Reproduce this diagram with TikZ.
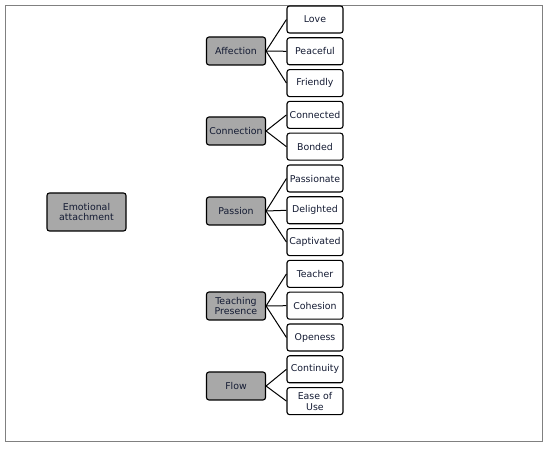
\documentclass[tikz,border=0pt]{standalone}
\usepackage{fontspec}
\setmainfont{DejaVu Sans}
\definecolor{txt}{HTML}{141B33}
\definecolor{catfill}{HTML}{A8A8A8}
\definecolor{framec}{HTML}{808080}
\begin{document}
\begin{tikzpicture}[x=1pt,y=-1pt,
  base/.style={draw=black, line width=1.1pt, rounded corners=2.5pt, align=center,
    font=\fontsize{9.4}{10.8}\selectfont, text=txt, inner sep=0pt},
  cat/.style={base, fill=catfill, minimum width=59pt, minimum height=28pt},
  leaf/.style={base, fill=white, minimum width=56pt, minimum height=27pt},
  root/.style={base, fill=catfill, minimum width=79pt, minimum height=38pt},
  link/.style={draw=black, line width=1pt}]
\useasboundingbox (0,0) rectangle (550,449);
\draw[framec, line width=1.3pt] (5.5,5.5) rectangle (542.5,441.5);
\node[root] (root) at (86.5,212) {Emotional\\attachment};
\node[cat] (aff) at (236,51) {Affection};
\node[cat] (con) at (236,131) {Connection};
\node[cat] (pas) at (236,211) {Passion};
\node[cat] (tea) at (236,306) {Teaching\\Presence};
\node[cat] (flo) at (236,386) {Flow};
\node[leaf] (l1) at (315,19.5) {Love};
\node[leaf] (l2) at (315,51.3) {Peaceful};
\node[leaf] (l3) at (315,83.1) {Friendly};
\node[leaf] (l4) at (315,114.9) {Connected};
\node[leaf] (l5) at (315,146.7) {Bonded};
\node[leaf] (l6) at (315,178.5) {Passionate};
\node[leaf] (l7) at (315,210.3) {Delighted};
\node[leaf] (l8) at (315,242.1) {Captivated};
\node[leaf] (l9) at (315,273.9) {Teacher};
\node[leaf] (l10) at (315,305.7) {Cohesion};
\node[leaf] (l11) at (315,337.5) {Openess};
\node[leaf] (l12) at (315,369.3) {Continuity};
\node[leaf] (l13) at (315,401.1) {Ease of\\Use};
\foreach \c/\l in {aff/l1,aff/l2,aff/l3,con/l4,con/l5,pas/l6,pas/l7,pas/l8,tea/l9,tea/l10,tea/l11,flo/l12,flo/l13}
  \draw[link] (\c.east) -- (\l.west);
\end{tikzpicture}
\end{document}
